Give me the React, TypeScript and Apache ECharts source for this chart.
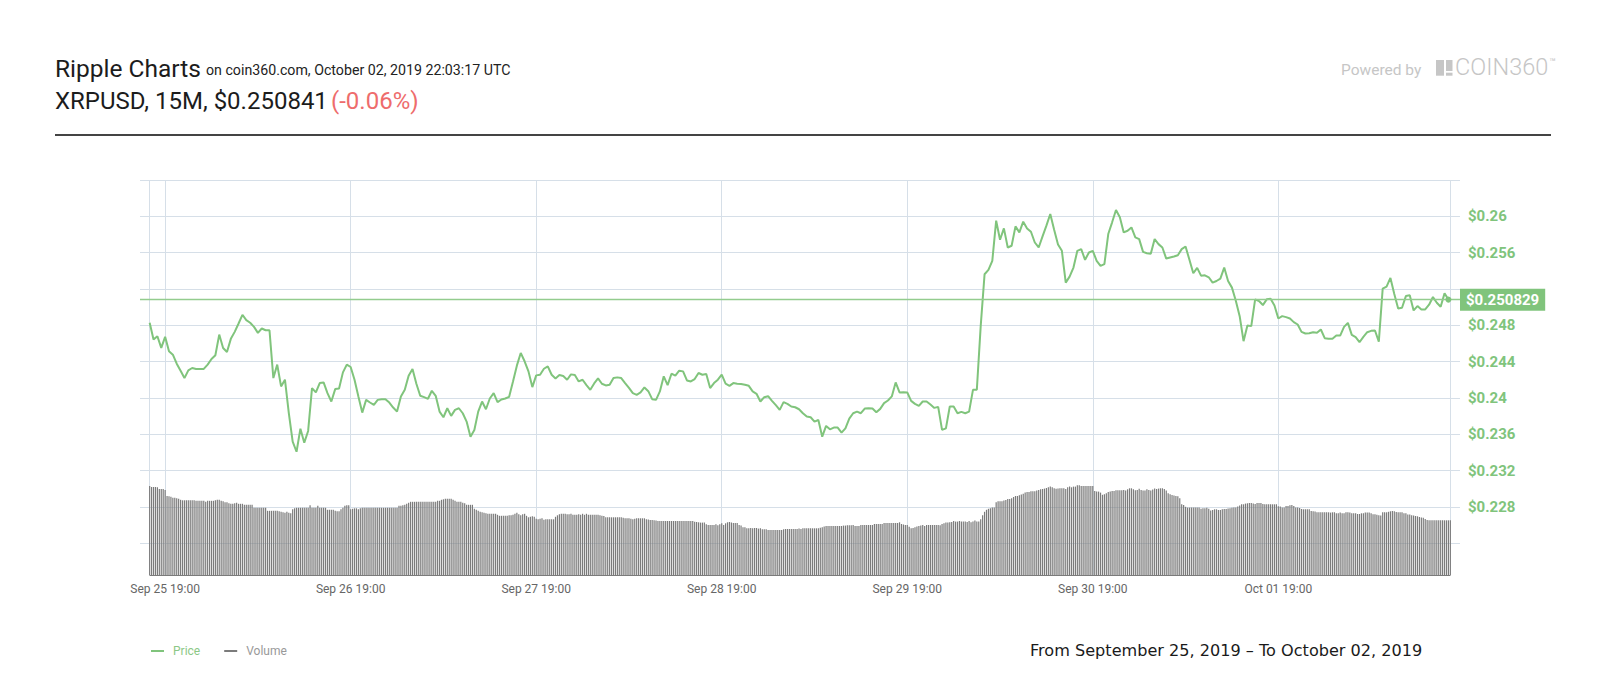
import React, { useEffect, useRef } from "react";
import * as echarts from "echarts";

// Price, one reading every 30 minutes from Sep 25 17:00 to Oct 02 17:00
const price = [
  0.24828, 0.24643, 0.2468, 0.24551, 0.24673, 0.24514, 0.24477, 0.24378, 0.243, 0.24219, 0.24304, 0.2433, 0.24319, 0.24319, 0.2432, 0.24367,
  0.24429, 0.2447, 0.24698, 0.24551, 0.24507, 0.24651, 0.24728, 0.2482, 0.24916, 0.24857, 0.24828, 0.24783, 0.24717, 0.24765, 0.24746, 0.24746,
  0.24219, 0.24367, 0.24127, 0.24201, 0.23832, 0.23519, 0.23408, 0.23662, 0.23508, 0.23637, 0.24109, 0.24061, 0.24164, 0.24171, 0.24053, 0.23961,
  0.24098, 0.24105, 0.24282, 0.24367, 0.24341, 0.24201, 0.24017, 0.23839, 0.23979, 0.2395, 0.23924, 0.23979, 0.23987, 0.23987, 0.2395, 0.23895,
  0.2385, 0.24017, 0.2409, 0.24245, 0.24319, 0.24157, 0.24024, 0.24009, 0.23991, 0.24079, 0.24024, 0.2385, 0.23788, 0.23887, 0.23803, 0.23869,
  0.23887, 0.23832, 0.2374, 0.23574, 0.23648, 0.2385, 0.23961, 0.23876, 0.23994, 0.24053, 0.23954, 0.23983, 0.23994, 0.24013, 0.24182, 0.24356,
  0.24496, 0.24404, 0.24293, 0.2412, 0.24249, 0.24256, 0.24322, 0.24348, 0.24256, 0.24215, 0.24252, 0.24241, 0.24201, 0.2426, 0.24252, 0.24182,
  0.24201, 0.24142, 0.2409, 0.2416, 0.24215, 0.24157, 0.24138, 0.24145, 0.24219, 0.24227, 0.24219, 0.24164, 0.24112, 0.24053, 0.24035, 0.24061,
  0.24116, 0.24075, 0.23987, 0.2398, 0.24072, 0.24238, 0.24142, 0.24267, 0.24245, 0.243, 0.24293, 0.24193, 0.24182, 0.24208, 0.24275, 0.24256,
  0.24263, 0.24109, 0.24164, 0.24201, 0.24256, 0.24157, 0.24134, 0.24164, 0.24157, 0.24153, 0.24145, 0.24134, 0.24072, 0.24046, 0.23961, 0.24009,
  0.2402, 0.23969, 0.23921, 0.23869, 0.23954, 0.23935, 0.23906, 0.23898, 0.23876, 0.23832, 0.23795, 0.23788, 0.2374, 0.23758, 0.23574, 0.23692,
  0.23655, 0.23674, 0.23674, 0.23618, 0.23666, 0.23773, 0.23832, 0.2385, 0.23832, 0.23884, 0.23887, 0.23884, 0.23843, 0.2388, 0.23943, 0.23972,
  0.24017, 0.24171, 0.24061, 0.24064, 0.24061, 0.23968, 0.23935, 0.23913, 0.23961, 0.23961, 0.23928, 0.23891, 0.23902, 0.23648, 0.23666, 0.23906,
  0.23906, 0.23832, 0.23847, 0.23832, 0.2385, 0.2409, 0.2409, 0.24791, 0.25362, 0.2541, 0.2551, 0.25952, 0.25742, 0.25867, 0.25657, 0.25676,
  0.25889, 0.25823, 0.25941, 0.25867, 0.2583, 0.25712, 0.25657, 0.25779, 0.25897, 0.26026, 0.25853, 0.2569, 0.2562, 0.2527, 0.25336, 0.25436,
  0.2562, 0.25639, 0.25521, 0.25602, 0.2562, 0.2551, 0.25454, 0.25473, 0.25805, 0.25934, 0.2607, 0.25989, 0.25823, 0.25841, 0.25878, 0.25768,
  0.25749, 0.25609, 0.25594, 0.25587, 0.25749, 0.25694, 0.25657, 0.25535, 0.25547, 0.25558, 0.25572, 0.25639, 0.25668, 0.25521, 0.25373, 0.25432,
  0.25347, 0.25351, 0.25329, 0.2527, 0.25288, 0.25314, 0.25436, 0.25288, 0.25215, 0.25071, 0.24901, 0.24625, 0.24798, 0.24791, 0.25086, 0.25067,
  0.25023, 0.25086, 0.25093, 0.25019, 0.24875, 0.24901, 0.2489, 0.24875, 0.24835, 0.24809, 0.24728, 0.2471, 0.24713, 0.24724, 0.24717, 0.24754,
  0.24658, 0.24651, 0.24651, 0.24687, 0.24687, 0.24783, 0.24827, 0.24695, 0.24669, 0.24614, 0.24673, 0.24724, 0.24739, 0.24743, 0.24621, 0.25204,
  0.25226, 0.25322, 0.25145, 0.24986, 0.24993, 0.25122, 0.2513, 0.24964, 0.25012, 0.24975, 0.24975, 0.25027, 0.25111, 0.25049, 0.25004, 0.25152,
  0.25083,
];

// Volume, one bar every 15 minutes from Sep 25 17:00 to Oct 02 17:15
const volume = [
  89.3, 88.3, 88.3, 88.3, 88, 86.3, 86.3, 86.3, 85.3, 79.3, 79, 78.5, 77.5, 77.5, 77, 76.5,
  75.5, 75, 75, 75, 75, 75, 75, 75, 74.5, 74.5, 74.5, 74.5, 74.5, 73.5, 74.5, 74.5,
  74.5, 74.5, 75, 75.5, 75.5, 74.5, 74, 73, 73, 72, 71.5, 71.5, 72, 72.5, 71.5, 71.5,
  71.5, 70.5, 70.5, 70.5, 70.5, 70.5, 67.5, 67.5, 67.5, 67.5, 67.5, 67.5, 67.5, 64.5, 64.5, 64.5,
  64.5, 64.5, 64.5, 64, 63.5, 63, 62.5, 63.5, 62.5, 62, 66, 67, 67.5, 67.5, 67.5, 67.5,
  67.5, 67.5, 67.5, 70, 67.5, 67.5, 67.5, 69.5, 67.5, 67.5, 67.5, 67.5, 65.5, 65.5, 65.5, 65.5,
  64.5, 64, 64, 66, 67.5, 69.5, 70, 70, 66, 66.5, 67, 67, 66, 67, 67.5, 67.5,
  67.5, 67.5, 67.5, 67.5, 67.5, 67.5, 67.5, 67.5, 67.5, 67.5, 67.5, 67.5, 67.5, 67.5, 67.5, 67.5,
  67.5, 69.5, 69.5, 70, 70.5, 71.5, 72.5, 73.5, 73.5, 73.5, 73.5, 73.5, 73.5, 73.5, 73.5, 73.5,
  73.5, 73.5, 73.5, 73.5, 73.5, 74.5, 74.5, 75.5, 76, 76.5, 76.5, 76.5, 76.5, 75.5, 74.5, 73.5,
  73.5, 73.5, 72.5, 72, 70.5, 70.5, 70.5, 70.5, 66.5, 65.5, 64.5, 63.5, 63, 62.5, 62, 61.5,
  61.5, 61.5, 61.5, 61.5, 60.5, 59.5, 59.5, 59.5, 59.5, 59.5, 60, 60, 60.5, 61.5, 62.5, 61,
  60, 61, 61.5, 59.5, 58, 58.5, 59, 58.5, 56.5, 56, 56.5, 57, 55.5, 56, 56, 56,
  56, 56, 58.5, 60, 61, 61.5, 61.5, 61.5, 61, 61, 61.5, 60.5, 60.5, 60.5, 61, 60.5,
  61.5, 60.5, 61.5, 60.5, 60.5, 60.5, 60.5, 60.5, 60.5, 60, 59.5, 59.3, 58, 58, 58, 58,
  58, 58, 58, 58, 58, 57.5, 57, 57, 57, 56.5, 56, 56.5, 57, 57, 57, 57,
  57, 56, 55.7, 55.3, 55.3, 55, 54.7, 54.3, 54.3, 54.3, 54.3, 54.3, 54.3, 54.3, 54.3, 54.3,
  54.3, 54.3, 54.3, 54.3, 54.3, 54.3, 54.3, 54.3, 54.3, 54.3, 53.5, 53.3, 53, 52.7, 52.7, 52.7,
  51, 50.3, 50.3, 50.3, 50.3, 51, 50, 51, 52, 50.3, 52, 53, 53.3, 52.7, 52.3, 52.3,
  52.3, 50.3, 49.7, 48, 48, 47, 47, 47.3, 47, 47.3, 47.3, 46.7, 47, 46, 46, 46,
  45.3, 45.3, 45.3, 45.3, 45.3, 45.3, 45.3, 45.3, 46, 46.3, 46.3, 46.3, 46.3, 46.3, 46.3, 46.3,
  46.7, 46.3, 47, 47, 47, 47, 47, 47, 47, 47, 47, 47.5, 48, 48.7, 49.3, 49.3,
  49.3, 49.3, 49.3, 49.3, 49.3, 49.3, 49.3, 49.7, 49.7, 50, 50, 50, 50.3, 49.3, 49.3, 49.3,
  50.3, 50.3, 50.3, 50.3, 50.3, 50.3, 50.3, 51.3, 51.3, 51.3, 51.3, 51.3, 52.3, 52.3, 52.3, 52.3,
  52.3, 52.3, 52.3, 52.3, 53, 51.3, 50.7, 50.3, 50.3, 48.5, 47, 47.3, 48, 48.7, 49.3, 49.7,
  50.3, 49.3, 50.3, 50.3, 50.3, 50.3, 50.3, 50.3, 50.3, 50, 51.3, 52, 52.7, 52.7, 53, 53.3,
  54.3, 53.7, 53.7, 54.3, 53.7, 53.7, 53.7, 53.3, 54.3, 53, 53.7, 54.7, 53.7, 53.7, 56, 60,
  63.5, 65.5, 66.5, 67, 67.7, 67.7, 73, 74, 74, 74, 74.7, 75.3, 76.3, 76.3, 77, 78.3,
  79.3, 79.3, 80, 80.7, 81.5, 82.7, 83.3, 83.3, 84, 84, 84, 84.7, 85.3, 86, 86.3, 86.7,
  87.3, 88, 88.7, 88, 87, 86.5, 86.8, 87, 87, 87, 86.3, 88, 88.7, 88, 88.7, 88.7,
  90, 90, 89.3, 89.3, 89.3, 89.3, 89.3, 89.3, 89.3, 84.3, 83.7, 83.7, 82.7, 80.5, 81, 82,
  83.3, 83.7, 84.3, 84.3, 85, 85, 85, 85, 85.3, 84.7, 86, 87, 87, 86, 85, 85.3,
  86.5, 85.3, 84.7, 84.7, 86, 85.3, 84.7, 85.7, 86.7, 86.3, 86.7, 87, 87, 86.3, 84.7, 82,
  81, 80.3, 79.7, 79.3, 79, 77, 71, 70.3, 68.5, 67.7, 67.7, 67.7, 67.7, 67.7, 67.7, 67.7,
  66.5, 67, 67, 67.5, 66.5, 64.7, 65.3, 66, 66, 65.3, 65.3, 66, 66.3, 66.3, 66.7, 67,
  67.5, 67.7, 67.7, 68.7, 69.7, 71, 71, 71.7, 72, 72.3, 72.3, 71.7, 71.3, 72.3, 72.3, 72.3,
  71.3, 71, 71, 71, 71, 71, 71, 71, 69, 68.7, 67.7, 67.7, 69.3, 69.3, 70, 70.3,
  69.3, 67.7, 67.7, 67.3, 66.3, 66, 66, 66, 66, 64.3, 64, 63.7, 63, 63, 63, 63,
  63, 63, 63, 62.7, 63, 63, 62, 62, 62.7, 62, 62, 63, 63, 62.7, 62, 62,
  62, 61.3, 61.3, 62, 62, 62.7, 62.7, 62.7, 62, 61, 61, 60.5, 60, 59.7, 63, 63,
  63, 63.5, 64, 64.3, 64, 63.3, 63, 63, 63, 62, 62, 60.7, 60.7, 60, 59.7, 59.3,
  59, 58.3, 57.7, 57.5, 56.3, 55.3, 55, 55, 55, 55, 55, 55, 55, 55, 55, 55,
  55, 55,
];

const tickLabels = [
  "Sep 25 19:00",
  "Sep 26 19:00",
  "Sep 27 19:00",
  "Sep 28 19:00",
  "Sep 29 19:00",
  "Sep 30 19:00",
  "Oct 01 19:00",
];

const currentPrice = 0.250829;
const priceTicks = [0.228, 0.232, 0.236, 0.24, 0.244, 0.248, 0.256, 0.26];

const MONTHS = ["Jan", "Feb", "Mar", "Apr", "May", "Jun", "Jul", "Aug", "Sep", "Oct", "Nov", "Dec"];
const START = Date.UTC(2019, 8, 25, 17, 0);
const STEP = 15 * 60 * 1000;
const pad = (n: number) => (n < 10 ? "0" + n : "" + n);
const categories = volume.map((_, i) => {
  const d = new Date(START + i * STEP);
  return `${MONTHS[d.getUTCMonth()]} ${pad(d.getUTCDate())} ${pad(d.getUTCHours())}:${pad(d.getUTCMinutes())}`;
});

const GREEN = "#80c47c";
const LINE_GREEN = "#93cc8e";
const GRIDC = "#d6dfe8";
const FONT = "Roboto";
const LOGO = "#c6c6c6";

export default function App() {
  const ref = useRef<HTMLDivElement>(null);

  useEffect(() => {
    document.body.style.margin = "0";
    if (!ref.current) return;
    const chart = echarts.init(ref.current, null, { renderer: "svg" });

    const TOP = 180;
    const MAIN_BOTTOM = 575.3;
    const LABEL_BOTTOM = 579.63;
    const AX_MIN = 0.22;
    const AX_MAX = 0.264;
    const priceMin = AX_MAX - ((AX_MAX - AX_MIN) * (MAIN_BOTTOM - TOP)) / (LABEL_BOTTOM - TOP);
    const last = volume.length - 1;

    const pricePairs = price.map((v, i) => [i * 2, v]);

    const option: any = {
      animation: false,
      grid: [
        { left: 140, right: 140, top: TOP, bottom: 700 - MAIN_BOTTOM },
        { left: 140, right: 140, top: TOP, bottom: 700 - LABEL_BOTTOM },
      ],
      legend: {
        left: 151,
        top: 645,
        padding: 0,
        icon: "rect",
        itemWidth: 13,
        itemHeight: 2,
        itemGap: 24,
        selectedMode: false,
        textStyle: { fontFamily: FONT, fontSize: 12, padding: [0, 0, 0, 4] },
        data: [
          { name: "Price", textStyle: { color: "#8cc886" } },
          { name: "Volume", textStyle: { color: "#999999" } },
        ],
      },
      xAxis: [
        {
          type: "category",
          gridIndex: 0,
          data: categories,
          boundaryGap: false,
          min: -5,
          max: last + 5,
          axisLine: { show: false },
          axisTick: { show: false },
          axisLabel: {
            interval: (_i: number, label: string) => tickLabels.includes(label),
            color: "#666666",
            fontFamily: FONT,
            fontSize: 12,
            margin: 8,
          },
          splitLine: {
            show: true,
            interval: (i: number, label: string) => tickLabels.includes(label) || i === 0 || i === last,
            lineStyle: { color: GRIDC, width: 1 },
          },
        },
        { type: "value", gridIndex: 1, min: 0, max: 1, show: false },
      ],
      yAxis: [
        { type: "value", gridIndex: 0, min: priceMin, max: AX_MAX, show: false },
        { type: "value", gridIndex: 0, min: 0, max: MAIN_BOTTOM - TOP, show: false },
        {
          type: "value",
          gridIndex: 1,
          position: "right",
          min: AX_MIN,
          max: AX_MAX,
          interval: 0.004,
          axisLine: { show: false },
          axisTick: { show: false },
          splitLine: { show: true, showMinLine: false, lineStyle: { color: GRIDC, width: 1 } },
          axisLabel: {
            margin: 8,
            color: GREEN,
            fontFamily: FONT,
            fontSize: 15,
            fontWeight: "bold",
            formatter: (v: number) => {
              const r = Math.round(v * 1000) / 1000;
              return priceTicks.some((t) => Math.abs(t - r) < 1e-6) ? "$" + String(r) : "";
            },
          },
        },
      ],
      series: [
        {
          name: "Volume",
          type: "bar",
          xAxisIndex: 0,
          yAxisIndex: 1,
          data: volume,
          barWidth: 1.2,
          itemStyle: { color: "#7b7b7b" },
          z: 2,
          markLine: {
            silent: true,
            precision: 6,
            symbol: ["none", "none"],
            label: { show: false },
            lineStyle: { color: "#7b7b7b", width: 1.2, type: "solid" },
            data: [[{ coord: [0, 0] }, { coord: [last, 0] }]],
          },
        },
        {
          name: "Price",
          type: "line",
          xAxisIndex: 0,
          yAxisIndex: 0,
          data: pricePairs,
          showSymbol: false,
          lineStyle: { color: GREEN, width: 2 },
          itemStyle: { color: GREEN },
          z: 4,
          markLine: {
            precision: 6,
            symbol: ["none", "none"],
            lineStyle: { color: LINE_GREEN, width: 1.3, type: "solid" },
            label: {
              show: true,
              position: "end",
              distance: 0,
              formatter: "$" + currentPrice,
              backgroundColor: GREEN,
              color: "#ffffff",
              fontFamily: FONT,
              fontSize: 15,
              fontWeight: "bold",
              padding: [4, 6, 3, 6],
            },
            data: [{ yAxis: currentPrice }],
          },
          markPoint: {
            silent: true,
            symbol: "circle",
            symbolSize: 6,
            itemStyle: { color: GREEN },
            label: { show: false },
            data: [{ coord: pricePairs[pricePairs.length - 1] }],
          },
        },
      ],
      graphic: [
        { type: "text", left: 55, top: 56, style: { text: "Ripple Charts", font: `24.5px ${FONT}`, fill: "#1c1c1c" } },
        {
          type: "text",
          left: 206,
          top: 63,
          style: { text: "on coin360.com, October 02, 2019 22:03:17 UTC", font: `14.2px ${FONT}`, fill: "#222222" },
        },
        { type: "text", left: 55, top: 89, style: { text: "XRPUSD, 15M, $0.250841", font: `24px ${FONT}`, fill: "#1c1c1c" } },
        { type: "text", left: 331, top: 89, style: { text: "(-0.06%)", font: `24px ${FONT}`, fill: "#ee6c6c" } },
        { type: "line", shape: { x1: 55, y1: 135, x2: 1551, y2: 135 }, style: { stroke: "#444444", lineWidth: 2 } },
        { type: "text", left: 1341, top: 62, style: { text: "Powered by", font: `15.5px ${FONT}`, fill: LOGO } },
        { type: "rect", shape: { x: 1436, y: 60, width: 8, height: 15.7 }, style: { fill: LOGO } },
        { type: "rect", shape: { x: 1446, y: 60, width: 6.5, height: 11 }, style: { fill: LOGO } },
        { type: "rect", shape: { x: 1446, y: 72.7, width: 6.5, height: 3 }, style: { fill: LOGO } },
        { type: "text", left: 1455, top: 55, style: { text: "COIN360", font: `300 23.5px ${FONT}`, fill: LOGO } },
        { type: "text", left: 1549, top: 57, style: { text: "™", font: `11px ${FONT}`, fill: LOGO } },
        {
          type: "text",
          left: 1030,
          top: 642,
          style: { text: "From September 25, 2019 – To October 02, 2019", font: `16.1px "DejaVu Sans"`, fill: "#1a1a1a" },
        },
      ],
    };

    chart.setOption(option);
    return () => chart.dispose();
  }, []);

  return <div ref={ref} style={{ width: 1600, height: 700 }} />;
}
